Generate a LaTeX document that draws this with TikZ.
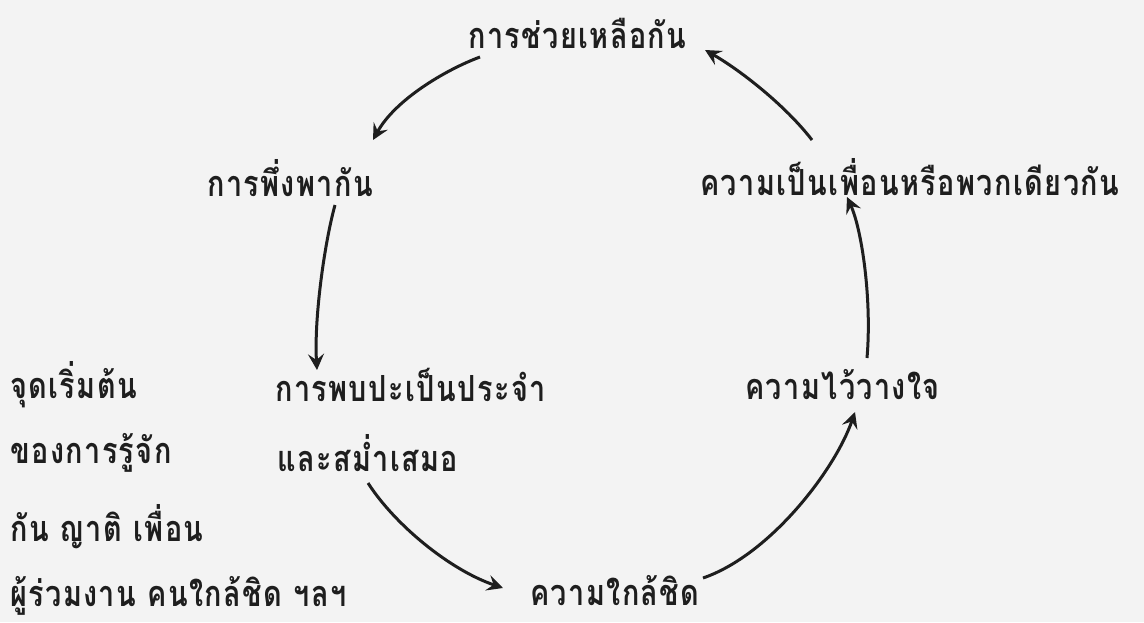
\documentclass[tikz,border=0pt]{standalone}
\usepackage{fontspec}
\newfontfamily\thaifont[Script=Thai,FakeStretch=0.8,LetterSpace=4]{Loma}
\usetikzlibrary{arrows.meta}
\definecolor{paper}{HTML}{F3F3F3}
\definecolor{ink}{HTML}{1E1E1E}
\tikzset{
  lbl/.style={anchor=west, inner sep=0pt, text=ink, font=\thaifont\bfseries\fontsize{36}{42}\selectfont},
  arr/.style={draw=ink, line width=3pt, -{Stealth[length=16pt,width=16pt,inset=6pt]}}
}
\begin{document}
\begin{tikzpicture}[x=1pt,y=-1pt]
\fill[paper] (0,0) rectangle (1144,622);
\useasboundingbox (0,0) rectangle (1144,622);
\node[lbl] (help) at (468,33) {การช่วยเหลือกัน};
\node[lbl] (depend) at (207,178) {การพึ่งพากัน};
\node[lbl] (friend) at (700,177) {ความเป็นเพื่อนหรือพวกเดียวกัน};
\node[lbl] (start1) at (10,385) {จุดเริ่มต้น};
\node[lbl] (meet1) at (275,385) {การพบปะเป็นประจำ};
\node[lbl] (trust) at (745,385) {ความไว้วางใจ};
\node[lbl] (start2) at (10,453) {ของการรู้จัก};
\node[lbl] (meet2) at (277,453) {และสม่ำเสมอ};
\node[lbl] (start3) at (10,527) {กัน ญาติ เพื่อน};
\node[lbl] (start4) at (10,596) {ผู้ร่วมงาน คนใกล้ชิด ฯลฯ};
\node[lbl] (close) at (530,591) {ความใกล้ชิด};
\coordinate (a1s) at (480,57);  \coordinate (a1e) at (373,140);
\coordinate (a2s) at (335,205); \coordinate (a2e) at (317,370);
\coordinate (a3s) at (368,483); \coordinate (a3e) at (503,588);
\coordinate (a4s) at (703,578); \coordinate (a4e) at (855,412);
\coordinate (a5s) at (867,358); \coordinate (a5e) at (847,197);
\coordinate (a6s) at (812,140); \coordinate (a6e) at (705,50);
\draw[arr] (a1s) .. controls (445,70) and (395,100) .. (a1e);
\draw[arr] (a2s) .. controls (324,245) and (314,320) .. (a2e);
\draw[arr] (a3s) .. controls (395,525) and (450,570) .. (a3e);
\draw[arr] (a4s) .. controls (770,555) and (835,470) .. (a4e);
\draw[arr] (a5s) .. controls (872,300) and (862,230) .. (a5e);
\draw[arr] (a6s) .. controls (785,105) and (740,70) .. (a6e);
\end{tikzpicture}
\end{document}
